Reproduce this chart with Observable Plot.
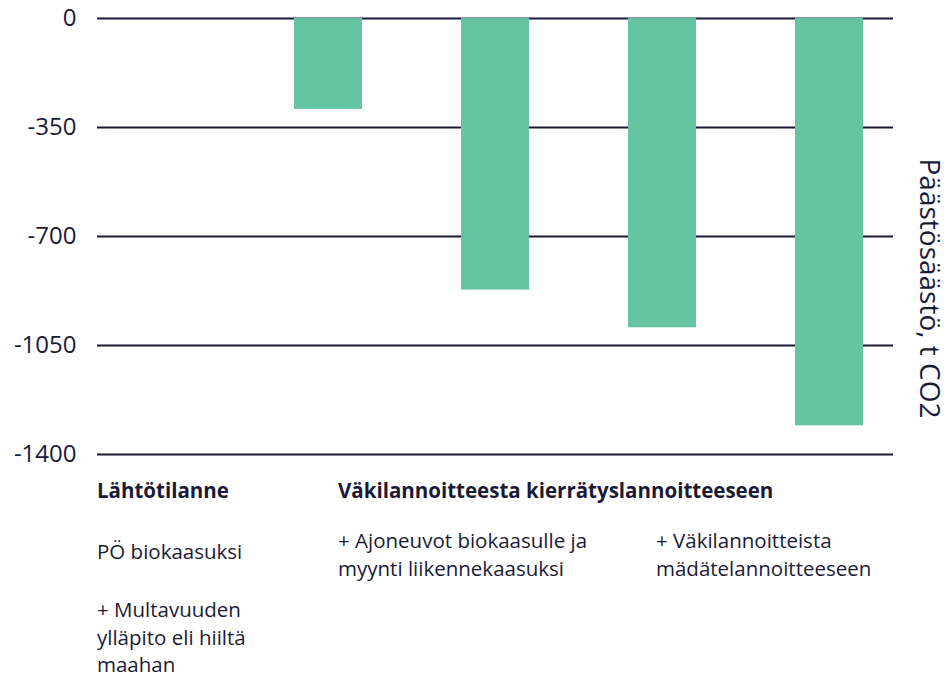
<!DOCTYPE html>
<html>
<head>
<meta charset="utf-8">
<script src="https://cdn.jsdelivr.net/npm/d3@7"></script>
<script src="https://cdn.jsdelivr.net/npm/@observablehq/plot@0.6"></script>
<style>
  html, body { margin: 0; padding: 0; background: #fff; }
  body { width: 949px; height: 679px; position: relative; overflow: hidden; font-family: "Open Sans", sans-serif; color: #1b1a36; }
  #chart { position: absolute; left: 0; top: 0; }
  .note { position: absolute; font-size: 20.5px; line-height: 27.5px; color: #1b1a36; white-space: nowrap; }
  .bold { font-weight: 700; font-size: 20.5px; }
</style>
</head>
<body>
<div id="chart"></div>
<div class="note bold" style="left:97px; top:477px;">Lähtötilanne</div>
<div class="note bold" style="left:338px; top:477px;">Väkilannoitteesta kierrätyslannoitteeseen</div>
<div class="note" style="left:97px; top:538px;">PÖ biokaasuksi</div>
<div class="note" style="left:97px; top:596px;">+ Multavuuden<br>ylläpito eli hiiltä<br>maahan</div>
<div class="note" style="left:338px; top:527px;">+ Ajoneuvot biokaasulle ja<br>myynti liikennekaasuksi</div>
<div class="note" style="left:656px; top:527px;">+ Väkilannoitteista<br>mädätelannoitteeseen</div>
<script>
const categories = [
  "Lähtötilanne",
  "PÖ biokaasuksi",
  "+ Multavuuden ylläpito eli hiiltä maahan",
  "+ Ajoneuvot biokaasulle ja myynti liikennekaasuksi",
  "+ Väkilannoitteista mädätelannoitteeseen"
];
const values = [0, -292, -872, -993, -1308];
const yTicks = [0, -350, -700, -1050, -1400];
const axisTitle = "Päästösäästö, t CO2";

const data = categories.map((c, i) => ({category: c, value: values[i]}));
const navy = "#1b1a36";

const chart = Plot.plot({
  width: 949,
  height: 470,
  marginTop: 18,
  marginBottom: 16,
  marginLeft: 97,
  marginRight: 56,
  style: {fontFamily: "Open Sans, sans-serif", color: navy, background: "transparent"},
  x: {domain: categories, paddingInner: 0.595, paddingOuter: 0.167, axis: null},
  y: {domain: [-1400, 0], ticks: yTicks, label: null},
  marks: [
    Plot.ruleY(yTicks, {stroke: navy, strokeWidth: 1.8}),
    Plot.barY(data, {x: "category", y: "value", fill: "#66c4a3"}),
    Plot.axisY(yTicks, {tickSize: 0, tickPadding: 21, fontSize: 24, fill: navy, label: null, tickFormat: d => String(d)}),
    Plot.text([axisTitle], {frameAnchor: "right", textAnchor: "middle", rotate: 90, dx: 35, dy: 52, fontSize: 28, fill: navy})
  ]
});
document.getElementById("chart").appendChild(chart);
</script>
</body>
</html>
